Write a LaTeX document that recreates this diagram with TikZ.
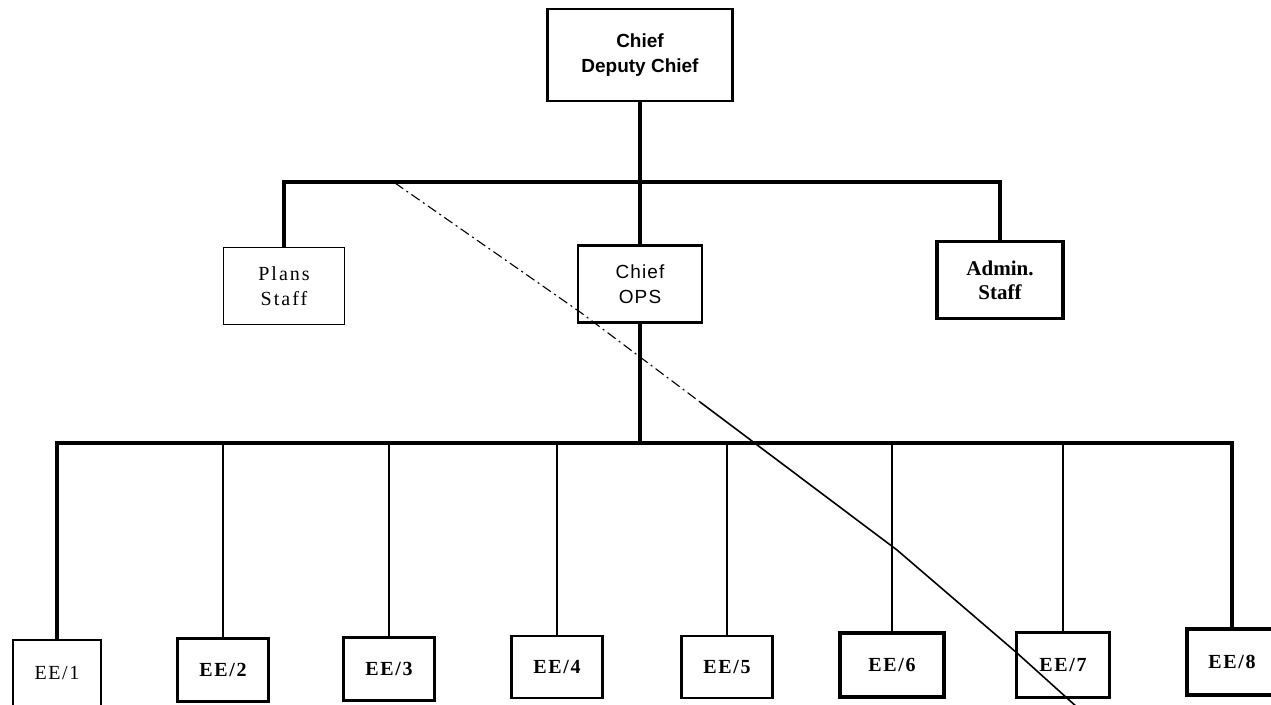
\documentclass[tikz,border=0pt]{standalone}
\usepackage{fontspec}
\setmainfont{Liberation Serif}
\setsansfont{Liberation Sans}
\newfontfamily\eefont[LetterSpace=8]{Liberation Serif}
\newfontfamily\opsfont[LetterSpace=6]{Liberation Sans}
\usetikzlibrary{positioning}
\tikzset{
  unit/.style={
    rectangle,
    draw=black, line width=2pt,
    align=center,
    font=\fontsize{20}{24}\selectfont},
  heavyunit/.style={line width=3.6pt},
  eeunit/.style={unit, line width=2.6pt, minimum width=91pt, minimum height=63pt,
    font=\eefont\bfseries\fontsize{20}{24}\selectfont},
  link/.style={draw, line width=2.8pt},
  bar/.style={draw, line width=3.2pt},
  stray/.style={draw, line width=1.1pt},
}

\begin{document}
\begin{tikzpicture}[x=1pt, y=-1pt]
  \clip (0,0) rectangle (1271,704);
  \fill[white] (0,0) rectangle (1271,704);
  \node[unit, line width=2.4pt, minimum width=185pt, minimum height=92pt, font=\sffamily\bfseries\fontsize{19}{25}\selectfont] (chief) at (640,55) {Chief\\Deputy Chief};
  \node[unit, line width=1.6pt, minimum width=121pt, minimum height=77pt, font=\addfontfeature{LetterSpace=10}\fontsize{20}{25}\selectfont] (plans) at (284,286) {Plans\\Staff};
  \node[unit, line width=2.6pt, minimum width=124pt, minimum height=77pt, font=\opsfont\fontsize{19}{25}\selectfont] (ops) at (640,284) {Chief\\OPS};
  \node[unit, heavyunit, minimum width=126pt, minimum height=77pt, font=\bfseries\fontsize{21}{24}\selectfont] (admin) at (1000,280) {Admin.\\Staff};
  \node[eeunit, line width=1.6pt, minimum width=88pt, minimum height=66pt, font=\eefont\fontsize{20}{24}\selectfont] (ee1) at (57,673) {EE/1};
  \node[eeunit] (ee2) at (223,670) {EE/2};
  \node[eeunit] (ee3) at (389,669) {EE/3};
  \node[eeunit, minimum height=62pt] (ee4) at (557,667) {EE/4};
  \node[eeunit, minimum height=62pt] (ee5) at (727,667) {EE/5};
  \node[eeunit, heavyunit, minimum width=104pt, minimum height=64pt] (ee6) at (892,665) {EE/6};
  \node[eeunit, heavyunit, minimum width=93pt, minimum height=65pt] (ee7) at (1063,665) {EE/7};
  \node[eeunit, heavyunit, minimum width=90pt, minimum height=66pt] (ee8) at (1232,662) {EE/8};

  \coordinate (staffbar) at (640,182);
  \coordinate (opsbar) at (640,443);
  \draw[bar] (chief) -- (ops);
  \draw[bar] (plans.north) |- (staffbar) -| (admin.north);
  \draw[bar] (ops) -- (opsbar);
  \draw[bar] (ee1.north) |- (opsbar) -| (ee8.north);
  \foreach \n in {2,...,7}
    \draw[link] (opsbar -| ee\n.north) -- (ee\n.north);

  \coordinate (s1) at (395,183);
  \coordinate (s2) at (580,312);
  \coordinate (s3) at (700,402);
  \coordinate (s4) at (897,550);
  \coordinate (s5) at (1017,653);
  \coordinate (s6) at (1078,708);
  \draw[stray, dash pattern=on 10pt off 4pt on 2pt off 4pt] (s1) -- (s2) -- (s3);
  \draw[stray, line width=1.6pt] (s3) -- (s4) -- (s5) -- (s6);
\end{tikzpicture}
\end{document}
